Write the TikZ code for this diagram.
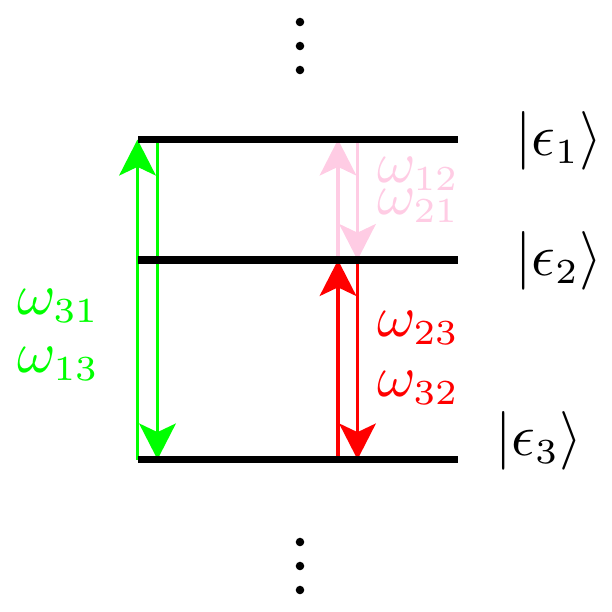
\documentclass[tikz,border=0pt]{standalone}
\usetikzlibrary{arrows.meta}
\DeclareMathSizes{10}{10}{6}{5}
\definecolor{lgreen}{RGB}{0,255,0}
\definecolor{lred}{RGB}{255,0,0}
\definecolor{lpink}{RGB}{255,204,228}
\tikzset{
  level/.style={line width=5.4pt, black},
  trans/.style={line width=2.3pt, -{Stealth[length=27pt,width=27.5pt,inset=6.5pt]}},
  lbl/.style={inner sep=0pt, anchor=base west, font=\normalsize, scale=4.4},
  dotc/.style={circle, fill=black, inner sep=0pt, minimum size=6.4pt}
}
\begin{document}
\begin{tikzpicture}[x=0.75pt,y=-0.75pt]
\useasboundingbox (0,0) rectangle (612,612);
% level end points
\coordinate (L1w) at (138,139.5); \coordinate (L1e) at (458,139.5);
\coordinate (L2w) at (138,260);   \coordinate (L2e) at (458,260);
\coordinate (L3w) at (138,459.5); \coordinate (L3e) at (458,459.5);
% arrow end points
\coordinate (ga1) at (137.5,139.5); \coordinate (ga3) at (137.5,459.5);
\coordinate (gb1) at (157.5,139.5); \coordinate (gb3) at (157.5,459.5);
\coordinate (pa1) at (338,139.5);   \coordinate (pa2) at (338,260);
\coordinate (pb1) at (357.5,139.5); \coordinate (pb2) at (357.5,260);
\coordinate (ra2) at (338,260);     \coordinate (ra3) at (338,459.5);
\coordinate (rb2) at (357.5,260);   \coordinate (rb3) at (357.5,459.5);
% transitions
\draw[trans, lgreen] (ga3) -- (ga1);
\draw[trans, lgreen] (gb1) -- (gb3);
\draw[trans, lpink] (pa2) -- (pa1);
\draw[trans, lpink] (pb1) -- (pb2);
\draw[trans, lred] (ra3) -- (ra2);
\draw[trans, lred] (rb2) -- (rb3);
% levels
\draw[level] (L1w) -- (L1e);
\draw[level] (L2w) -- (L2e);
\draw[level] (L3w) -- (L3e);
% dots
\node[dotc] (d1) at (300,22) {};
\node[dotc] (d2) at (300,46) {};
\node[dotc] (d3) at (300,70) {};
\node[dotc] (d4) at (300,542) {};
\node[dotc] (d5) at (300,566) {};
\node[dotc] (d6) at (300,590) {};
% labels
\node[lbl, text=lgreen] (w31) at (16,314) {$\omega_{31}$};
\node[lbl, text=lgreen] (w13) at (16,372) {$\omega_{13}$};
\node[lbl, text=lpink] (w12) at (376,182) {$\omega_{12}$};
\node[lbl, text=lpink] (w21) at (376,214) {$\omega_{21}$};
\node[lbl, text=lred] (w23) at (376,336) {$\omega_{23}$};
\node[lbl, text=lred] (w32) at (376,396) {$\omega_{32}$};
% kets
\node[lbl] (k1) at (514,155) {$|\epsilon_1\rangle$};
\node[lbl] (k2) at (514,275) {$|\epsilon_2\rangle$};
\node[lbl] (k3) at (494,455) {$|\epsilon_3\rangle$};
\end{tikzpicture}
\end{document}
